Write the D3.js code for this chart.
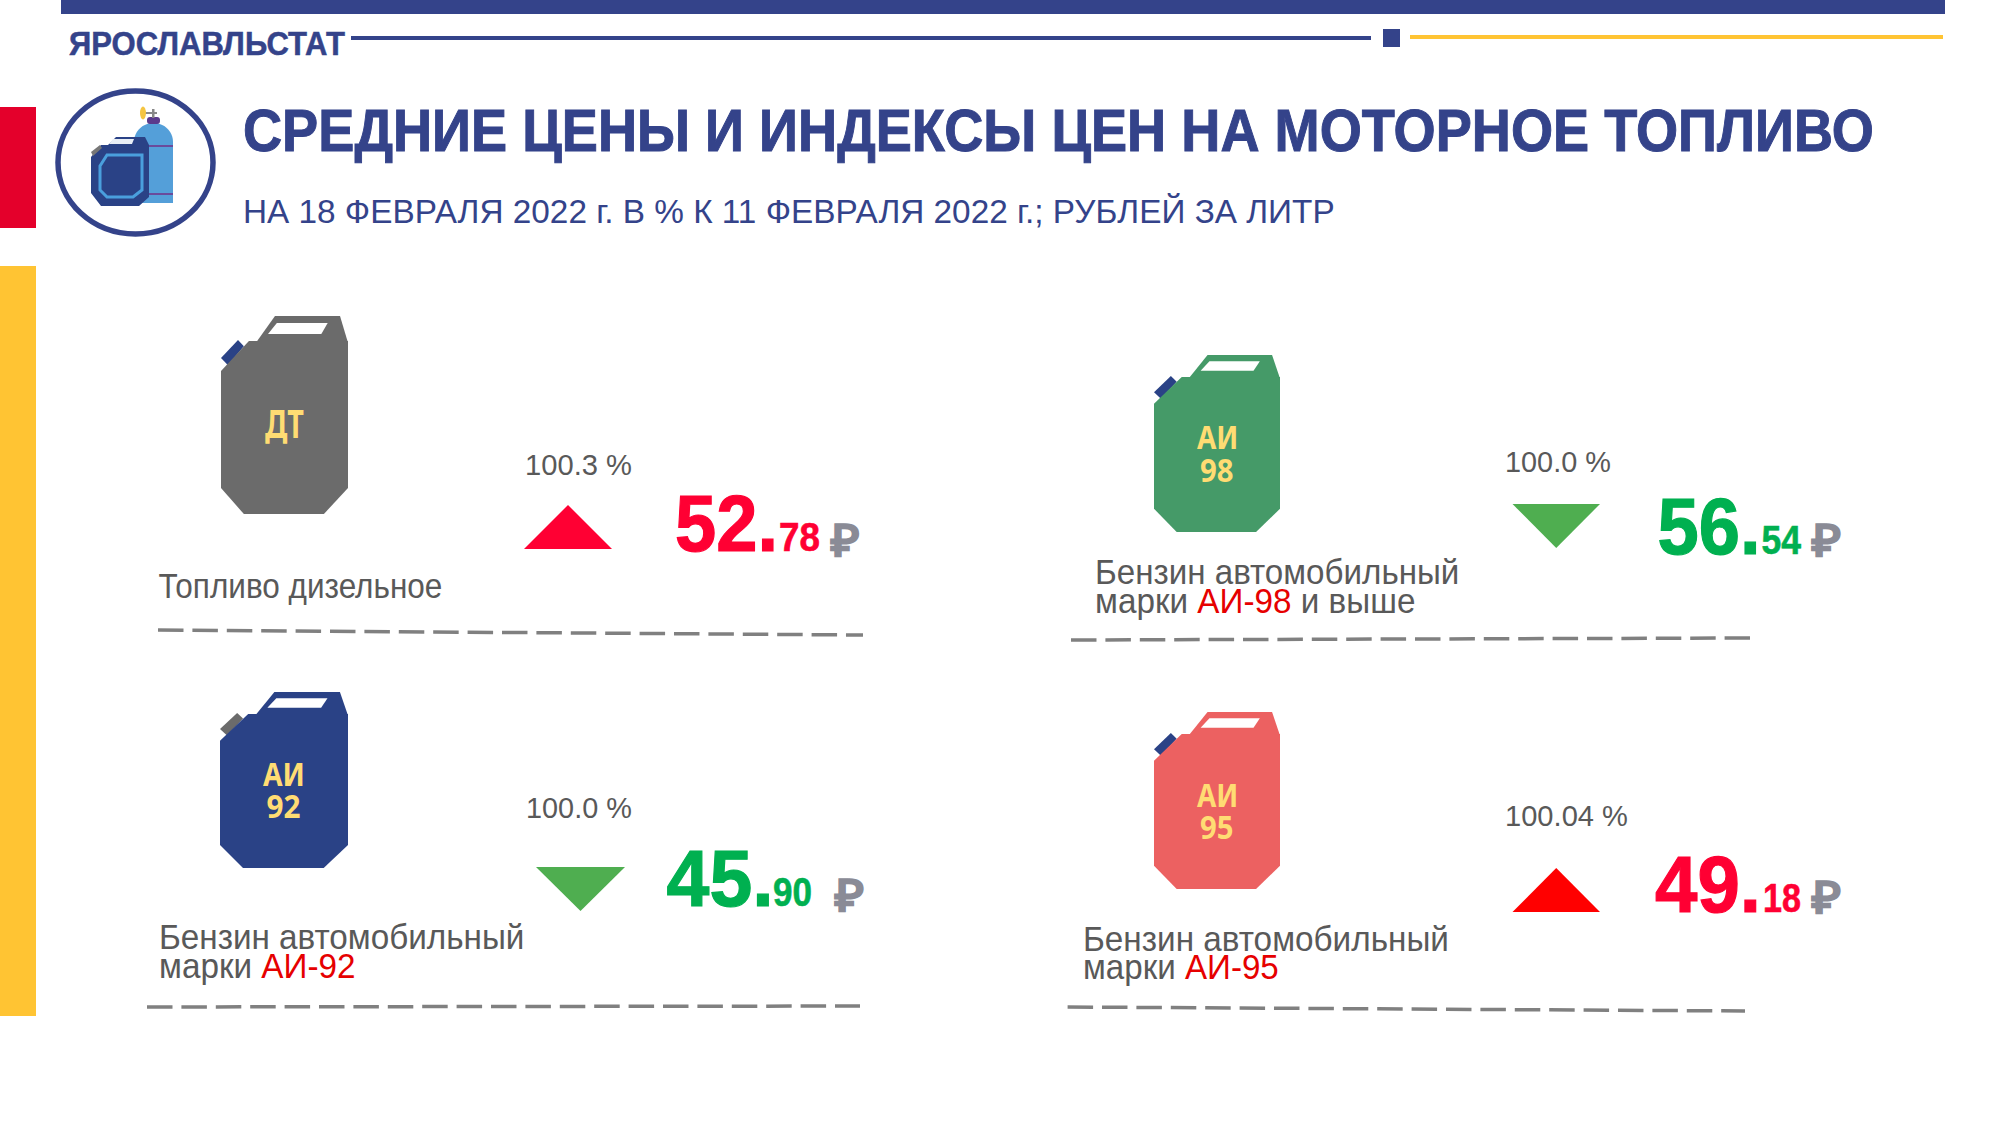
<!DOCTYPE html>
<html lang="ru"><head><meta charset="utf-8">
<script src="https://cdn.jsdelivr.net/npm/d3@7/dist/d3.min.js"></script>
<style>html,body{margin:0;padding:0;background:#fff}svg{display:block}text{font-family:"Liberation Sans",Arial,sans-serif}</style>
</head><body><svg id="c" width="2000" height="1125"></svg>
<script>
// ---- data ----
const fuels = ["ДТ","АИ-98","АИ-92","АИ-95"];
const prices = [52.78,56.54,45.90,49.18];
const indexLabels = ["100.3 %","100.0 %","100.0 %","100.04 %"];
const directions = ["up","down","down","up"];
const jerryLabels = [["ДТ"],["АИ","98"],["АИ","92"],["АИ","95"]];
const nameLines = [
  [[["Топливо дизельное",0]]],
  [[["Бензин автомобильный",0]],[["марки ",0],["АИ-98",1],[" и выше",0]]],
  [[["Бензин автомобильный",0]],[["марки ",0],["АИ-92",1]]],
  [[["Бензин автомобильный",0]],[["марки ",0],["АИ-95",1]]]
];
const brand = "ЯРОСЛАВЛЬСТАТ";
const title = "СРЕДНИЕ ЦЕНЫ И ИНДЕКСЫ ЦЕН НА МОТОРНОЕ ТОПЛИВО";
const subtitle = "НА 18 ФЕВРАЛЯ 2022 г. В % К 11 ФЕВРАЛЯ 2022 г.; РУБЛЕЙ ЗА ЛИТР";

// ---- layout & style ----
const NAVY="#34438a", TEXT="#595959", RUB="#8a8b96";
const jerryColor=["#6b6b6b","#459a68","#2a4286","#ec6161"], capColor=["#2a4286","#2a4286","#6b6b6b","#2a4286"];
const triColor=["#ff0033","#4fae50","#4fae50","#ff0000"], priceColor=["#ff0033","#00b050","#00b050","#ff0033"];
const L=[
 {jx:[221,348],jy:[341,514],hTop:316,
  lab:[{x:265,w:39,b:438,s:40}],
  idx:{x:525,w:107,b:475},tri:{x:[524,612],y:[549,505]},
  big:{x:675,w:103,b:551},small:{x:779,w:41,b:551},rub:{x:831,w:29,b:556},
  name:[{x:158.5,w:284,b:598}],dash:[158,630,863,635]},
 {jx:[1154,1280],jy:[377,532],hTop:355,
  lab:[{x:1197,w:41.5,b:449,s:33},{x:1200,w:33.5,b:482,s:33}],
  idx:{x:1505,w:106,b:472},tri:{x:[1512.5,1600],y:[504,548]},
  big:{x:1657.5,w:103,b:554},small:{x:1761.5,w:39.5,b:554},rub:{x:1811.5,w:29.5,b:556},
  name:[{x:1095,w:364.5,b:584},{x:1095,w:320.6,b:613}],dash:[1071,640,1750,638]},
 {jx:[220,348],jy:[714,868],hTop:692,
  lab:[{x:263,w:42,b:786,s:33},{x:266.5,w:34,b:818,s:33}],
  idx:{x:526,w:106,b:818},tri:{x:[536,625],y:[867,911]},
  big:{x:666.6,w:107,b:906},small:{x:773,w:39,b:906},rub:{x:835,w:29.5,b:911},
  name:[{x:159,w:365.6,b:949},{x:159,w:196.7,b:978}],dash:[147,1007,860,1006]},
 {jx:[1154,1280],jy:[734,889],hTop:712,
  lab:[{x:1197,w:41.5,b:807,s:33},{x:1200,w:33.5,b:839,s:33}],
  idx:{x:1505,w:123,b:826},tri:{x:[1512.5,1600],y:[912,868]},
  big:{x:1655,w:106,b:912},small:{x:1763,w:38,b:912},rub:{x:1811.5,w:29.5,b:913},
  name:[{x:1083,w:366,b:951},{x:1083,w:196,b:979}],dash:[1067.6,1007,1745,1011]}
];

const svg=d3.select("#c");
const line=d3.line();

function fit(parent,x,b,w,size,weight,fill,segs,fam,bold){
  const t=parent.append("text").attr("font-size",size).attr("font-weight",weight).attr("fill",fill);
  if(fam) t.style("font-family",fam);
  if(bold) t.attr("stroke",fill).attr("stroke-width",bold);
  (segs||[]).forEach(s=>t.append("tspan").style("white-space","pre").attr("fill",s[1]||fill).text(s[0]));
  const len=t.node().getComputedTextLength();
  t.attr("transform",`translate(${x},${b}) scale(${w/len},1)`);
  return t;
}
function rect(x0,y0,x1,y1,f){svg.append("rect").attr("x",x0).attr("y",y0).attr("width",x1-x0).attr("height",y1-y0).attr("fill",f);}

// header
rect(61,0,1945,14,NAVY);
rect(351,36,1371,40,NAVY);
rect(1383,29,1400,47,NAVY);
rect(1410,35,1943,39,"#ffc433");
rect(0,107,36,228,"#e4002b");
rect(0,266,36,1016,"#ffc433");
fit(svg,69,55,276,33,"bold",NAVY,[[brand]],null,0.5);
fit(svg,243,151,1631,60,"bold",NAVY,[[title]],null,1);
fit(svg,243,223,1092,34,"normal",NAVY,[[subtitle]]);

// header icon
const ic=svg.append("g");
ic.append("ellipse").attr("cx",135.5).attr("cy",162.5).attr("rx",77.5).attr("ry",71.5).attr("fill","#fff").attr("stroke",NAVY).attr("stroke-width",5.5);
ic.append("path").attr("d","M134 203V142C134 131 143 123 153.500 123C164 123 173 131 173 142V203Z").attr("fill","#549fd9");
ic.append("rect").attr("x",149).attr("y",145).attr("width",24).attr("height",2).attr("fill","#6a4a9c");
ic.append("rect").attr("x",149).attr("y",193).attr("width",24).attr("height",2).attr("fill","#6a4a9c");
ic.append("rect").attr("x",147).attr("y",117).attr("width",13).attr("height",7).attr("rx",3).attr("fill","#5b3a8c");
ic.append("rect").attr("x",152).attr("y",109).attr("width",2.5).attr("height",9).attr("fill","#888");
ic.append("rect").attr("x",141).attr("y",112).attr("width",16).attr("height",2).attr("fill","#888");
ic.append("ellipse").attr("cx",143).attr("cy",113).attr("rx",3).attr("ry",6.5).attr("fill","#f5c542");
ic.append("path").attr("d",line([[108,145],[116,137],[145,137],[149,145],[149,197],[139,206],[101,206],[91,193],[91,157],[101,145]])+"Z").attr("fill","#2a4286");
ic.append("path").attr("d",line([[109,144],[113,139],[134,139],[132,144]])+"Z").attr("fill","#e8eef6");
ic.append("path").attr("d",line([[91,152],[100,145],[102,148],[93,156]])+"Z").attr("fill","#777");
ic.append("path").attr("d",line([[107,155],[142,155],[142,190],[133,197],[107,197],[100,190],[100,166]])+"Z").attr("fill","none").attr("stroke","#4a9fdd").attr("stroke-width",3);

// fuel blocks
fuels.forEach((fuel,i)=>{
  const l=L[i], g=svg.append("g").attr("class","fuel").attr("data-fuel",fuel);
  const X=d3.scaleLinear().domain([0,1]).range(l.jx), H=l.jy[1]-l.jy[0];
  const Y=d3.scaleLinear().domain([0,1]).range(l.jy);
  const p=pts=>line(pts.map(d=>[X(d[0]),Y(d[1])]))+"Z";
  const hy=(l.hTop-l.jy[0])/H;
  g.append("path").attr("d",p([[.275,.01],[.425,hy],[.937,hy],[1,.01]])).attr("fill",jerryColor[i]);
  g.append("path").attr("d",p([[.37,hy*.28],[.44,hy*.72],[.84,hy*.72],[.79,hy*.28]])).attr("fill","#fff");
  g.append("path").attr("d",p([[.134,-.006],[.18,.03],[.055,.14],[0,.098]])).attr("fill",capColor[i]);
  g.append("path").attr("d",p([[.22,0],[1,0],[1,.85],[.81,1],[.18,1],[0,.85],[0,.173]])).attr("fill",jerryColor[i]);
  l.lab.forEach((d,k)=>fit(g,d.x,d.b,d.w,d.s,"bold","#ffdc73",[[jerryLabels[i][k]]],"'Noto Sans',sans-serif"));
  fit(g,l.idx.x,l.idx.b,l.idx.w,30,"normal",TEXT,[[indexLabels[i]]]);
  const t=l.tri;
  g.append("path").attr("d",line([[t.x[0],t.y[0]],[t.x[1],t.y[0]],[(t.x[0]+t.x[1])/2,t.y[1]]])+"Z").attr("fill",triColor[i]);
  const parts=d3.format(".2f")(prices[i]).split(".");
  fit(g,l.big.x,l.big.b,l.big.w,79,"bold",priceColor[i],[[parts[0]+"."]],null,1.2);
  fit(g,l.small.x,l.small.b,l.small.w,40,"bold",priceColor[i],[[parts[1]]],null,0.6);
  fit(g,l.rub.x,l.rub.b,l.rub.w,44,"bold",RUB,[["₽"]],null,1.2);
  nameLines[i].forEach((segs,k)=>{
    const n=l.name[k];
    fit(g,n.x,n.b,n.w,35,"normal",TEXT,segs.map(s=>[s[0],s[1]?"#e60000":null]));
  });
  g.append("line").attr("x1",l.dash[0]).attr("y1",l.dash[1]).attr("x2",l.dash[2]).attr("y2",l.dash[3])
   .attr("stroke","#808080").attr("stroke-width",3.5).attr("stroke-dasharray","25.5 8.9");
});
</script></body></html>
